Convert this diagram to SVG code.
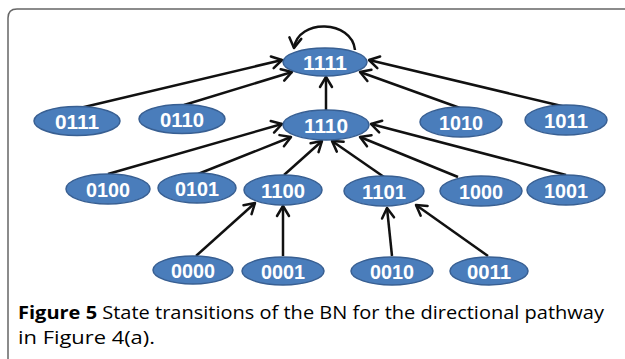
<svg xmlns="http://www.w3.org/2000/svg" width="625" height="359" viewBox="0 0 625 359">
<style>
.n ellipse{fill:#4a7dbb;stroke:#385f92;stroke-width:1.5}
.n text{font-family:"Liberation Sans",Arial,sans-serif;font-weight:bold;font-size:21px;fill:#fff;text-anchor:middle}
.e{stroke:#111;stroke-width:2.5;fill:none;marker-end:url(#ah)}
.cap{font-family:"Open Sans","Noto Sans",sans-serif;font-size:18.5px;fill:#000;font-weight:500}
</style>
<defs>
<marker id="ah" markerUnits="userSpaceOnUse" markerWidth="16" markerHeight="16" viewBox="0 0 16 16" refX="13" refY="8" orient="auto">
<path d="M3,2 L13,8 L3,14" fill="none" stroke="#111" stroke-width="2.5" stroke-linecap="round" stroke-linejoin="round"/>
</marker>
</defs>
<rect x="0" y="0" width="625" height="359" fill="#fff"/>
<path d="M8,359 L8,18 Q8,9 17,9 L625,9" fill="none" stroke="#666" stroke-width="1.5"/>
<g id="connectors">
<path class="e" d="M355,50 C352,20 298,18 294,48"/>
<line class="e" x1="80" y1="108" x2="282" y2="60"/>
<line class="e" x1="184" y1="105" x2="292" y2="72"/>
<line class="e" x1="326" y1="110" x2="326" y2="77"/>
<line class="e" x1="460" y1="108" x2="360" y2="72"/>
<line class="e" x1="566" y1="107" x2="369" y2="60"/>
<line class="e" x1="108" y1="174" x2="282" y2="124"/>
<line class="e" x1="198" y1="174" x2="291" y2="137"/>
<line class="e" x1="284" y1="175" x2="322" y2="141"/>
<line class="e" x1="384" y1="177" x2="332" y2="141"/>
<line class="e" x1="458" y1="177" x2="360" y2="137"/>
<line class="e" x1="566" y1="175" x2="371" y2="124"/>
<line class="e" x1="196" y1="256" x2="255" y2="203"/>
<line class="e" x1="283" y1="256" x2="283" y2="206"/>
<line class="e" x1="392" y1="256" x2="387" y2="208"/>
<line class="e" x1="488" y1="256" x2="416" y2="205"/>
</g>
<g id="n1111" class="n"><ellipse cx="325" cy="62" rx="42" ry="14"/><text x="325" y="69.5" textLength="44" lengthAdjust="spacingAndGlyphs">1111</text></g>
<g id="n0111" class="n"><ellipse cx="77" cy="121" rx="43" ry="14.5"/><text x="77" y="128.5" textLength="44" lengthAdjust="spacingAndGlyphs">0111</text></g>
<g id="n0110" class="n"><ellipse cx="182" cy="119" rx="43" ry="14.5"/><text x="182" y="126.5" textLength="44" lengthAdjust="spacingAndGlyphs">0110</text></g>
<g id="n1110" class="n"><ellipse cx="326" cy="125" rx="43" ry="15"/><text x="326" y="132.5" textLength="44" lengthAdjust="spacingAndGlyphs">1110</text></g>
<g id="n1010" class="n"><ellipse cx="461" cy="122" rx="41" ry="15"/><text x="461" y="129.5" textLength="44" lengthAdjust="spacingAndGlyphs">1010</text></g>
<g id="n1011" class="n"><ellipse cx="566" cy="120" rx="41" ry="15"/><text x="566" y="127.5" textLength="44" lengthAdjust="spacingAndGlyphs">1011</text></g>
<g id="n0100" class="n"><ellipse cx="108" cy="189" rx="42" ry="15"/><text x="108" y="196.5" textLength="44" lengthAdjust="spacingAndGlyphs">0100</text></g>
<g id="n0101" class="n"><ellipse cx="197" cy="188" rx="39" ry="15"/><text x="197" y="195.5" textLength="44" lengthAdjust="spacingAndGlyphs">0101</text></g>
<g id="n1100" class="n"><ellipse cx="283" cy="190" rx="39" ry="15"/><text x="283" y="197.5" textLength="44" lengthAdjust="spacingAndGlyphs">1100</text></g>
<g id="n1101" class="n"><ellipse cx="384" cy="191" rx="40" ry="15"/><text x="384" y="198.5" textLength="44" lengthAdjust="spacingAndGlyphs">1101</text></g>
<g id="n1000" class="n"><ellipse cx="481" cy="191" rx="41" ry="15"/><text x="481" y="198.5" textLength="44" lengthAdjust="spacingAndGlyphs">1000</text></g>
<g id="n1001" class="n"><ellipse cx="566" cy="190" rx="39" ry="15"/><text x="566" y="197.5" textLength="44" lengthAdjust="spacingAndGlyphs">1001</text></g>
<g id="n0000" class="n"><ellipse cx="193" cy="270" rx="40" ry="14"/><text x="193" y="277.5" textLength="44" lengthAdjust="spacingAndGlyphs">0000</text></g>
<g id="n0001" class="n"><ellipse cx="283" cy="271" rx="41" ry="14"/><text x="283" y="278.5" textLength="44" lengthAdjust="spacingAndGlyphs">0001</text></g>
<g id="n0010" class="n"><ellipse cx="392" cy="271" rx="41" ry="14"/><text x="392" y="278.5" textLength="44" lengthAdjust="spacingAndGlyphs">0010</text></g>
<g id="n0011" class="n"><ellipse cx="489" cy="271" rx="39" ry="14"/><text x="489" y="278.5" textLength="44" lengthAdjust="spacingAndGlyphs">0011</text></g>
<text class="cap" x="18" y="319" textLength="586" lengthAdjust="spacingAndGlyphs"><tspan font-weight="bold">Figure 5</tspan> State transitions of the BN for the directional pathway</text>
<text class="cap" x="18" y="344" textLength="137" lengthAdjust="spacingAndGlyphs">in Figure 4(a).</text>
</svg>
